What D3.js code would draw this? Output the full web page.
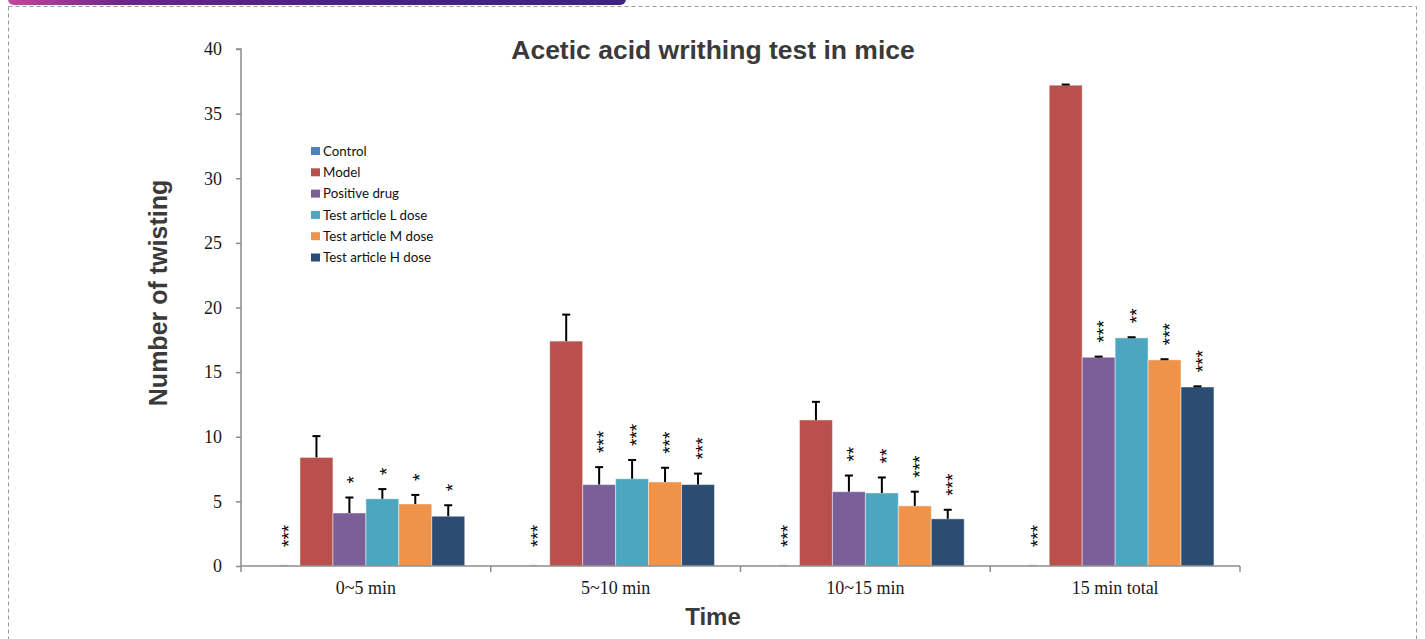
<!DOCTYPE html>
<html>
<head>
<meta charset="utf-8">
<script src="https://cdn.jsdelivr.net/npm/d3@7"></script>
<style>
  html, body { margin: 0; padding: 0; background: #fff; }
  svg { display: block; }
</style>
</head>
<body>
<svg id="chart" width="1425" height="639"></svg>
<script>
// ---- data ----
const categories = ["0~5 min", "5~10 min", "10~15 min", "15 min total"];
const seriesNames = ["Control", "Model", "Positive drug", "Test article L dose", "Test article M dose", "Test article H dose"];
const seriesColors = ["#4F81BD", "#B9504B", "#7A5F99", "#4DA6BF", "#EF924A", "#2C4D73"];
// mean values per series across categories
const controlValues  = [0, 0, 0, 0];
const modelValues    = [8.4, 17.4, 11.3, 37.2];
const positiveValues = [4.1, 6.3, 5.75, 16.15];
const lowDoseValues  = [5.2, 6.75, 5.65, 17.65];
const midDoseValues  = [4.8, 6.5, 4.65, 15.95];
const highDoseValues = [3.85, 6.3, 3.65, 13.85];
// error (SD) per series
const controlErr  = [0, 0, 0, 0];
const modelErr    = [1.65, 2.05, 1.4, 0.05];
const positiveErr = [1.2, 1.35, 1.25, 0.05];
const lowDoseErr  = [0.75, 1.45, 1.2, 0.05];
const midDoseErr  = [0.7, 1.1, 1.1, 0.05];
const highDoseErr = [0.85, 0.85, 0.7, 0.05];
// significance markers
const controlSig  = ["***", "***", "***", "***"];
const modelSig    = ["", "", "", ""];
const positiveSig = ["*", "***", "**", "***"];
const lowDoseSig  = ["*", "***", "**", "**"];
const midDoseSig  = ["*", "***", "***", "***"];
const highDoseSig = ["*", "***", "***", "***"];
const yTicks = [0, 5, 10, 15, 20, 25, 30, 35, 40];

const titleText = "Acetic acid writhing test in mice";
const yTitle = "Number of twisting";
const xTitle = "Time";

// ---- build table ----
const valueRows = [controlValues, modelValues, positiveValues, lowDoseValues, midDoseValues, highDoseValues];
const errRows = [controlErr, modelErr, positiveErr, lowDoseErr, midDoseErr, highDoseErr];
const sigRows = [controlSig, modelSig, positiveSig, lowDoseSig, midDoseSig, highDoseSig];
const table = [];
categories.forEach((c, ci) => {
  seriesNames.forEach((s, si) => {
    table.push({cat: c, series: s, si: si, value: valueRows[si][ci], err: errRows[si][ci], sig: sigRows[si][ci]});
  });
});

// ---- drawing ----
const svg = d3.select("#chart");

// decorative frame
const defs = svg.append("defs");
const grad = defs.append("linearGradient").attr("id", "topbar").attr("x1", "0%").attr("x2", "100%");
grad.append("stop").attr("offset", "0%").attr("stop-color", "#C4479B");
grad.append("stop").attr("offset", "18%").attr("stop-color", "#6E2689");
grad.append("stop").attr("offset", "50%").attr("stop-color", "#4B2182");
grad.append("stop").attr("offset", "100%").attr("stop-color", "#3D2480");

svg.append("path")
  .attr("d", "M8.5,6.5 H1416.5 V639 M8.5,6.5 V639")
  .attr("fill", "none").attr("stroke", "#9a9a9a").attr("stroke-width", 1)
  .attr("stroke-dasharray", "4,3");
svg.append("rect").attr("x", 8).attr("y", -8).attr("width", 618).attr("height", 13)
  .attr("rx", 6).attr("fill", "url(#topbar)");

const x0 = d3.scaleBand().domain(categories).range([241, 1240]).paddingInner(0).paddingOuter(0);
const x1 = d3.scaleBand().domain(seriesNames).range([0, x0.bandwidth()]).paddingInner(0).paddingOuter(0.79);
const y = d3.scaleLinear().domain([0, 40]).range([566, 49]);
const color = d3.scaleOrdinal().domain(seriesNames).range(seriesColors);

// bars
const g = svg.append("g");
g.selectAll("rect.bar").data(table).join("rect")
  .attr("class", "bar")
  .attr("x", d => x0(d.cat) + x1(d.series))
  .attr("y", d => y(d.value))
  .attr("width", x1.bandwidth())
  .attr("height", d => y(0) - y(d.value))
  .attr("fill", d => color(d.series))
  .attr("stroke", d => d.value > 0 ? "rgba(255,255,255,0.45)" : "none")
  .attr("stroke-width", 1);

// error bars
const capW = 4;
const cxOf = d => x0(d.cat) + x1(d.series) + x1.bandwidth() / 2;
const eg = g.selectAll("g.err").data(table.filter(d => d.value > 0)).join("g").attr("class", "err");
eg.append("line")
  .attr("x1", cxOf).attr("x2", cxOf)
  .attr("y1", d => y(d.value))
  .attr("y2", d => y(d.value + d.err))
  .attr("stroke", "#000").attr("stroke-width", 2);
eg.append("line")
  .attr("x1", d => cxOf(d) - capW)
  .attr("x2", d => cxOf(d) + capW)
  .attr("y1", d => y(d.value + d.err))
  .attr("y2", d => y(d.value + d.err))
  .attr("stroke", "#000").attr("stroke-width", 2);
// control zero cap (light)
g.selectAll("line.zcap").data(table.filter(d => d.value === 0)).join("line")
  .attr("class", "zcap")
  .attr("x1", d => cxOf(d) - capW)
  .attr("x2", d => cxOf(d) + capW)
  .attr("y1", y(0) - 0.5).attr("y2", y(0) - 0.5)
  .attr("stroke", "#c8c8c8").attr("stroke-width", 1.5);

// significance stars (rotated)
const starGap = 14;
g.selectAll("text.sig").data(table.filter(d => d.sig)).join("text")
  .attr("class", "sig")
  .attr("transform", d => {
    const cy = y(d.value + d.err) - (d.value === 0 ? 19 : starGap);
    return `translate(${cxOf(d)},${cy}) rotate(-90)`;
  })
  .attr("dy", "0.58em")
  .attr("text-anchor", "start")
  .attr("font-family", "Liberation Sans, Arial, sans-serif")
  .attr("font-size", 19)
  .attr("fill", "#000")
  .style("text-rendering", "geometricPrecision")
  .text(d => d.sig);

// axes
const axisColor = "#8c8c8c";
const yAxis = svg.append("g").attr("transform", "translate(241,0)")
  .call(d3.axisLeft(y).tickValues(yTicks).tickSize(5).tickPadding(14).tickFormat(d3.format("d")));
yAxis.select(".domain").attr("stroke", axisColor).attr("stroke-width", 1.5).attr("d", `M-5,${y(40)}H0V${y(0)}`);
yAxis.selectAll(".tick line").attr("stroke", axisColor).attr("stroke-width", 1.5);
yAxis.selectAll(".tick text").attr("font-family", "Liberation Serif, Times New Roman, serif").attr("font-size", 18).attr("fill", "#1a1a1a");

const xAxis = svg.append("g").attr("transform", `translate(0,${y(0)})`)
  .call(d3.axisBottom(x0).tickSize(0).tickPadding(15));
xAxis.select(".domain").attr("stroke", axisColor).attr("stroke-width", 1.5).attr("d", `M241,0H1240`);
xAxis.selectAll(".tick text").attr("font-family", "Liberation Serif, Times New Roman, serif").attr("font-size", 18).attr("fill", "#1a1a1a");
const bounds = categories.map(c => x0(c)).concat([x0.range()[1]]);
xAxis.selectAll("line.bound").data(bounds).join("line").attr("class", "bound")
  .attr("x1", d => d).attr("x2", d => d).attr("y1", 0).attr("y2", 6)
  .attr("stroke", axisColor).attr("stroke-width", 1.5);

// titles
svg.append("text").attr("x", 713).attr("y", 59).attr("text-anchor", "middle")
  .attr("font-family", "Liberation Sans, Arial, sans-serif").attr("font-weight", "bold")
  .attr("font-size", 26.5).attr("fill", "#3a3a3a").text(titleText);
svg.append("text").attr("transform", "translate(167,293) rotate(-90)").attr("text-anchor", "middle")
  .attr("font-family", "Liberation Sans, Arial, sans-serif").attr("font-weight", "bold")
  .attr("font-size", 25).attr("fill", "#3a3a3a").text(yTitle);
svg.append("text").attr("x", 713).attr("y", 625).attr("text-anchor", "middle")
  .attr("font-family", "Liberation Sans, Arial, sans-serif").attr("font-weight", "bold")
  .attr("font-size", 24).attr("fill", "#3a3a3a").text(xTitle);

// legend
const leg = svg.append("g").attr("transform", "translate(311,151)");
const li = leg.selectAll("g").data(seriesNames).join("g")
  .attr("transform", (d, i) => `translate(0,${i * 21.3})`);
li.append("rect").attr("x", 0).attr("y", -4).attr("width", 9).attr("height", 8).attr("fill", d => color(d));
li.append("text").attr("x", 12).attr("y", 0).attr("dy", "0.36em")
  .attr("font-family", "Lato, Noto Sans, sans-serif").attr("font-size", 13.3).attr("fill", "#111")
  .text(d => d);
</script>
</body>
</html>
